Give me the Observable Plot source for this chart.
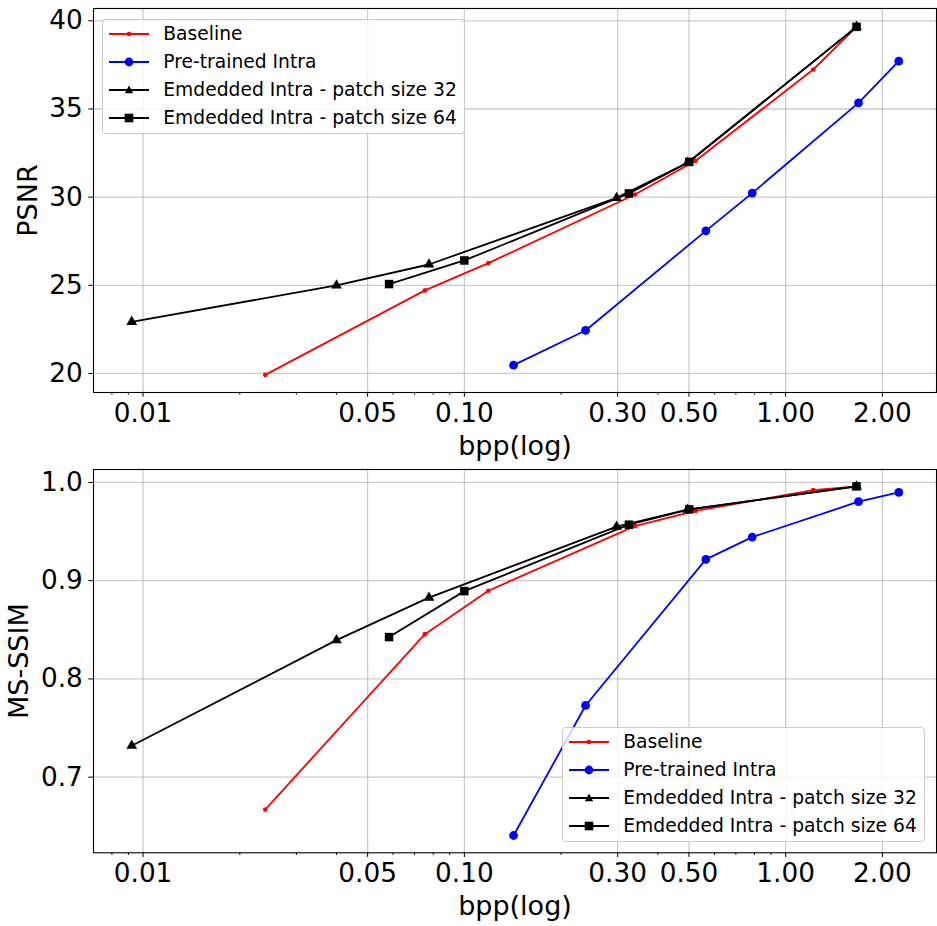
<!DOCTYPE html>
<html>
<head>
<meta charset="utf-8">
<script src="https://cdn.jsdelivr.net/npm/d3@7"></script>
<script src="https://cdn.jsdelivr.net/npm/@observablehq/plot@0.6"></script>
<style>
  html, body { margin: 0; padding: 0; background: white; }
  #fig { position: relative; width: 937px; height: 926px; font-family: "DejaVu Sans", sans-serif; }
  .panel { position: absolute; left: 0; }
  .legend { position: absolute; width: 363px; height: 115px; border: 1px solid #cccccc; border-radius: 4px; background: rgba(255,255,255,0.8); box-sizing: border-box; }
  .row { position: absolute; left: 0; height: 20px; line-height: 20px; font-size: 18.7px; white-space: nowrap; }
  .row svg { position: absolute; left: 6px; top: 0; }
  .row span { position: absolute; left: 60px; top: 0; }
</style>
</head>
<body>
<div id="fig">
  <div id="top" class="panel" style="top:0"></div>
  <div id="bot" class="panel" style="top:463px"></div>
</div>
<script>
// ---- data ----
const seriesNames = ["Baseline", "Pre-trained Intra", "Emdedded Intra - patch size 32", "Emdedded Intra - patch size 64"];
const seriesColors = ["#ff0000", "#0000ff", "#000000", "#000000"];

const bppBaseline = [0.024, 0.0754, 0.1188, 0.3396, 0.5244, 1.219, 1.662];
const psnrBaseline = [19.92, 24.71, 26.26, 30.15, 32.06, 37.24, 39.66];
const ssimBaseline = [0.667, 0.8456, 0.8898, 0.9556, 0.971, 0.9923, 0.996];

const bppPretrained = [0.1423, 0.2384, 0.5645, 0.787, 1.686, 2.25];
const psnrPretrained = [20.47, 22.44, 28.09, 30.23, 35.35, 37.71];
const ssimPretrained = [0.6406, 0.773, 0.9217, 0.9444, 0.9804, 0.9899];

const bppPatch32 = [0.00922, 0.04, 0.0776, 0.2978, 0.4951, 1.662];
const psnrPatch32 = [22.93, 24.99, 26.18, 29.96, 31.95, 39.66];
const ssimPatch32 = [0.732, 0.8395, 0.8827, 0.955, 0.9723, 0.996];

const bppPatch64 = [0.0583, 0.1, 0.3252, 0.501, 1.662];
const psnrPatch64 = [25.07, 26.41, 30.21, 32.0, 39.66];
const ssimPatch64 = [0.8426, 0.8894, 0.957, 0.9726, 0.996];

const xTicks = [0.01, 0.05, 0.1, 0.3, 0.5, 1, 2];
const xTickLabels = ["0.01", "0.05", "0.10", "0.30", "0.50", "1.00", "2.00"];
const xMinorTicks = [0.008, 0.009, 0.02, 0.03, 0.04, 0.06, 0.07, 0.08, 0.09, 0.2, 0.4, 0.6, 0.7, 0.8, 0.9];
const psnrTicks = [20, 25, 30, 35, 40];
const psnrTickLabels = ["20", "25", "30", "35", "40"];
const ssimTicks = [0.7, 0.8, 0.9, 1.0];
const ssimTickLabels = ["0.7", "0.8", "0.9", "1.0"];

// ---- helpers ----
function rows(bpp, vals) { return bpp.map((b, i) => ({x: b, y: vals[i]})); }

function seriesMarks(data) {
  const [base, pre, p32, p64] = data;
  return [
    Plot.line(base, {x: "x", y: "y", stroke: seriesColors[0], strokeWidth: 1.8}),
    Plot.dot(base, {x: "x", y: "y", fill: seriesColors[0], r: 2.3, symbol: "circle"}),
    Plot.line(pre, {x: "x", y: "y", stroke: seriesColors[1], strokeWidth: 1.8}),
    Plot.dot(pre, {x: "x", y: "y", fill: seriesColors[1], r: 4.4, symbol: "circle"}),
    Plot.line(p32, {x: "x", y: "y", stroke: seriesColors[2], strokeWidth: 1.8}),
    Plot.dot(p32, {x: "x", y: "y", fill: seriesColors[2], r: 4.0, symbol: "triangle"}),
    Plot.line(p64, {x: "x", y: "y", stroke: seriesColors[3], strokeWidth: 1.8}),
    Plot.dot(p64, {x: "x", y: "y", fill: seriesColors[3], r: 4.8, symbol: "square"})
  ];
}

function panel({data, yDomain, yTicks, yTickLabels, yLabel, yLabelDx, marginTop, marginBottom}) {
  return Plot.plot({
    width: 937,
    height: 463,
    marginLeft: 93,
    marginRight: 1,
    marginTop,
    marginBottom,
    x: {type: "log", domain: [0.00701, 2.948]},
    y: {domain: yDomain},
    style: {fontFamily: "DejaVu Sans, sans-serif", background: "white", color: "black", overflow: "visible"},
    marks: [
      Plot.gridX(xTicks, {stroke: "#b0b0b0", strokeOpacity: 0.65, strokeWidth: 1.3}),
      Plot.gridY(yTicks, {stroke: "#b0b0b0", strokeOpacity: 0.65, strokeWidth: 1.3}),
      ...seriesMarks(data),
      Plot.axisX(xMinorTicks, {tickSize: 2.7, tickFormat: () => "", label: null, strokeWidth: 0.9}),
      Plot.axisX(xTicks, {tickSize: 4.7, tickFormat: () => "", label: null, strokeWidth: 1}),
      Plot.text(xTicks, {x: d => d, text: (d, i) => xTickLabels[i], frameAnchor: "bottom", textAnchor: "middle",
        lineAnchor: "top", dy: 10.7, fontSize: 26.3, fill: "black"}),
      Plot.axisY(yTicks, {tickSize: 4.7, tickPadding: 6, fontSize: 26.3, label: null, strokeWidth: 1,
        tickFormat: d => yTickLabels[yTicks.indexOf(d)]}),
      Plot.text(["bpp(log)"], {frameAnchor: "bottom", textAnchor: "middle", lineAnchor: "top", dy: 43.5, fontSize: 27, fill: "black"}),
      Plot.text([yLabel], {frameAnchor: "left", textAnchor: "middle", lineAnchor: "top", rotate: -90, dx: yLabelDx, fontSize: 27, fill: "black"}),
      Plot.frame({stroke: "black", strokeWidth: 1.1})
    ]
  });
}

const topChart = panel({
  data: [rows(bppBaseline, psnrBaseline), rows(bppPretrained, psnrPretrained), rows(bppPatch32, psnrPatch32), rows(bppPatch64, psnrPatch64)],
  yDomain: [18.92, 40.70], yTicks: psnrTicks, yTickLabels: psnrTickLabels,
  yLabel: "PSNR", yLabelDx: -76, marginTop: 8, marginBottom: 71
});
document.getElementById("top").appendChild(topChart);

const botChart = panel({
  data: [rows(bppBaseline, ssimBaseline), rows(bppPretrained, ssimPretrained), rows(bppPatch32, ssimPatch32), rows(bppPatch64, ssimPatch64)],
  yDomain: [0.623, 1.0132], yTicks: ssimTicks, yTickLabels: ssimTickLabels,
  yLabel: "MS-SSIM", yLabelDx: -84.7, marginTop: 6, marginBottom: 73.7
});
document.getElementById("bot").appendChild(botChart);

// ---- legends ----
const markerSvg = [
  '<circle cx="20" cy="10" r="2.3" fill="#ff0000"/>',
  '<circle cx="20" cy="10" r="4.4" fill="#0000ff"/>',
  '<path d="M20,5.5 L24.2,13.3 L15.8,13.3 Z" fill="#000"/>',
  '<rect x="15.7" y="5.7" width="8.6" height="8.6" fill="#000"/>'
];
function addLegend(left, top) {
  const box = document.createElement("div");
  box.className = "legend";
  box.style.left = left + "px";
  box.style.top = top + "px";
  const rowOffsets = [14.3, 42.3, 70.3, 98];
  seriesNames.forEach((name, i) => {
    const r = document.createElement("div");
    r.className = "row";
    r.style.top = (rowOffsets[i] - 10) + "px";
    r.innerHTML = `<svg width="40" height="20"><line x1="0" y1="10" x2="40" y2="10" stroke="${seriesColors[i]}" stroke-width="1.8"/>${markerSvg[i]}</svg><span>${name}</span>`;
    box.appendChild(r);
  });
  document.getElementById("fig").appendChild(box);
}
addLegend(102.3, 19);
addLegend(562.3, 727);
</script>
</body>
</html>
